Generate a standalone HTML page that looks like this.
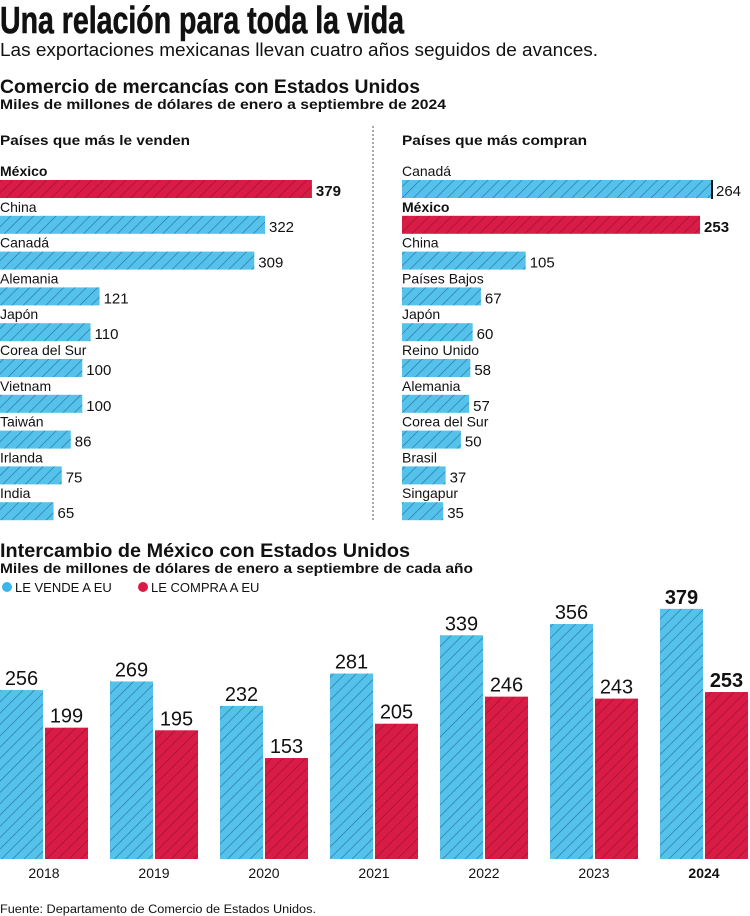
<!DOCTYPE html>
<html><head><meta charset="utf-8"><style>
html,body{margin:0;padding:0;background:#fff;}
svg{display:block;font-family:"Liberation Sans",sans-serif;}
</style></head><body>
<svg id="chart" width="750" height="916" viewBox="0 0 750 916" xmlns="http://www.w3.org/2000/svg">
<defs>
<pattern id="hb" patternUnits="userSpaceOnUse" width="8" height="8" patternTransform="rotate(45)">
<rect width="8" height="8" fill="#55c2ec"/><line x1="0" y1="0" x2="0" y2="8" stroke="#2a7398" stroke-width="1.3"/></pattern>
<pattern id="hr" patternUnits="userSpaceOnUse" width="8" height="8" patternTransform="rotate(45)">
<rect width="8" height="8" fill="#d81c45"/><line x1="0" y1="0" x2="0" y2="8" stroke="#9a102f" stroke-width="1.3"/></pattern>
</defs>
<text x="0" y="33" font-family="'Liberation Sans Narrow','Liberation Sans',sans-serif" font-weight="bold" font-size="38" textLength="404" lengthAdjust="spacingAndGlyphs" fill="#111" stroke="#111" stroke-width="0.6">Una relación para toda la vida</text>
<text x="0" y="56" font-size="18" textLength="598" lengthAdjust="spacingAndGlyphs" fill="#111">Las exportaciones mexicanas llevan cuatro años seguidos de avances.</text>
<text x="0" y="93" font-weight="bold" font-size="19" textLength="420" lengthAdjust="spacingAndGlyphs" fill="#111">Comercio de mercancías con Estados Unidos</text>
<text x="0" y="109" font-weight="bold" font-size="14" textLength="446" lengthAdjust="spacingAndGlyphs" fill="#111">Miles de millones de dólares de enero a septiembre de 2024</text>
<text x="0" y="145" font-weight="bold" font-size="14" textLength="190" lengthAdjust="spacingAndGlyphs" fill="#111">Países que más le venden</text>
<text x="402" y="145" font-weight="bold" font-size="14" textLength="185" lengthAdjust="spacingAndGlyphs" fill="#111">Países que más compran</text>
<line x1="373" y1="126" x2="373" y2="520" stroke="#555" stroke-width="1" stroke-dasharray="2,2"/>
<g id="left"></g><g id="right"></g>
<text x="0" y="557" font-weight="bold" font-size="19" textLength="410" lengthAdjust="spacingAndGlyphs" fill="#111">Intercambio de México con Estados Unidos</text>
<text x="0" y="573" font-weight="bold" font-size="14" textLength="473" lengthAdjust="spacingAndGlyphs" fill="#111">Miles de millones de dólares de enero a septiembre de cada año</text>
<circle cx="7" cy="587" r="5" fill="#3bb6e8"/>
<text x="15" y="592" font-size="13" fill="#111">LE VENDE A EU</text>
<circle cx="143" cy="587" r="5" fill="#d81c45"/>
<text x="151" y="592" font-size="13" fill="#111">LE COMPRA A EU</text>
<g id="bottom"></g>
<text x="0" y="913" font-size="11.5" textLength="316" lengthAdjust="spacingAndGlyphs" fill="#111">Fuente: Departamento de Comercio de Estados Unidos.</text>
</svg>
<script>
const leftCountries=["México","China","Canadá","Alemania","Japón","Corea del Sur","Vietnam","Taiwán","Irlanda","India"];
const leftValues=[379,322,309,121,110,100,100,86,75,65];
const rightCountries=["Canadá","México","China","Países Bajos","Japón","Reino Unido","Alemania","Corea del Sur","Brasil","Singapur"];
const rightValues=[264,253,105,67,60,58,57,50,37,35];
const years=["2018","2019","2020","2021","2022","2023","2024"];
const sells=[256,269,232,281,339,356,379];
const buys=[199,195,153,205,246,243,253];

const NS="http://www.w3.org/2000/svg";
function mk(tag,attrs,parent){const e=document.createElementNS(NS,tag);for(const k in attrs)e.setAttribute(k,attrs[k]);parent.appendChild(e);return e;}
function panel(gid,x0,scale,names,vals,markFirst){
  const g=document.getElementById(gid);
  names.forEach((n,i)=>{
    const y=180+i*35.8;const mex=n==="México";const w=vals[i]*scale;
    const t=mk('text',{x:x0,y:y-4,'font-size':14,'font-weight':mex?'bold':'normal',fill:'#111'},g);
    
    
    t.textContent=n;
    const r=mk('rect',{x:x0,y:y,width:w,height:18,fill:mex?'url(#hr)':'url(#hb)'},g);
    
    
    let off=4;
    if(markFirst&&i===0){
      const m=mk('line',{x1:x0+w-1,y1:y,x2:x0+w-1,y2:y+19,stroke:'#111','stroke-width':2},g);
      
      
      off=3;
    }
    const v=mk('text',{x:x0+w+off,y:y+16,'font-size':15,'font-weight':mex?'bold':'normal',fill:'#111'},g);
    
    
    v.textContent=vals[i];
  });
}
panel('left',0,0.823,leftCountries,leftValues,false);
panel('right',402,1.178,rightCountries,rightValues,true);
(function(){
  const g=document.getElementById('bottom');const base=859,sc=0.66,pitch=110,bw=43;
  const yy=v=>base-v*sc;
  years.forEach((yr,i)=>{
    const x=i*pitch;const last=i===years.length-1;
    [[sells[i],x,'url(#hb)'],[buys[i],x+45,'url(#hr)']].forEach(([v,bx,f])=>{
      const r=mk('rect',{x:bx,y:yy(v),width:bw,height:base-yy(v),fill:f},g);
      
      
      const t=mk('text',{x:bx+bw/2,y:yy(v)-5,'font-size':20,'text-anchor':'middle','font-weight':last?'bold':'normal',fill:'#111'},g);
      
      
      t.textContent=v;
    });
    const l=mk('text',{x:x+44,y:878,'font-size':14,'text-anchor':'middle','font-weight':last?'bold':'normal',fill:'#111'},g);
    
    
    l.textContent=yr;
  });
})();
</script>
</body></html>
